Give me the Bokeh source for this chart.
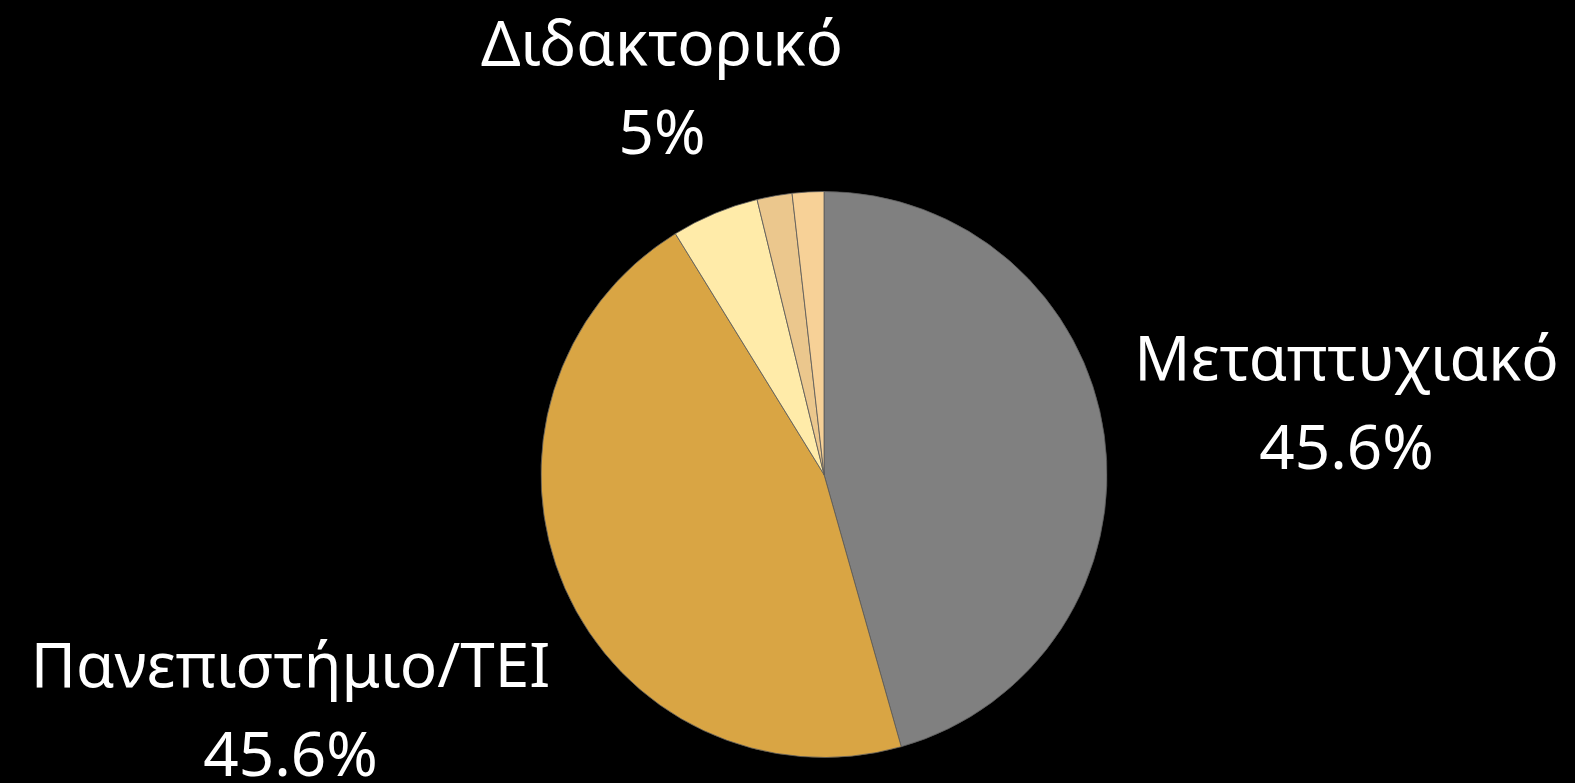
import numpy as np
from bokeh.plotting import figure
from bokeh.models import Range1d
from bokeh.core.properties import value
from bokeh.embed import file_html
from bokeh.resources import INLINE

categories = ["Μεταπτυχιακό", "Πανεπιστήμιο/TEI", "Διδακτορικό", "Άλλο 1", "Άλλο 2"]
shares = [45.6, 45.6, 5.0, 2.0, 1.8]
colors = ["#808080", "#D9A544", "#FFEBA9", "#EBC78D", "#F7D197"]
label_names = ["Μεταπτυχιακό", "Πανεπιστήμιο/TEI", "Διδακτορικό"]
label_values = ["45.6%", "45.6%", "5%"]

W, H = 1575, 783
p = figure(width=W, height=H, output_backend="svg", toolbar_location=None,
           x_range=Range1d(0, W), y_range=Range1d(783 - H, 783),
           min_border=0, background_fill_color="black", border_fill_color="black")
p.axis.visible = False
p.grid.visible = False
p.outline_line_color = None

cx, cy, r = 823.5, 783 - 474, 283
cum = np.concatenate([[0], np.cumsum(shares)]) / sum(shares) * 360.0
start = np.radians(90 - cum[:-1])
end = np.radians(90 - cum[1:])
p.wedge(x=cx, y=cy, radius=r, start_angle=start, end_angle=end, direction="clock",
        fill_color=colors, line_color="#5c5c5c", line_width=0.8)

font = value("Noto Sans")
shift = 28
lx = [1346, 290, 661.5]
ly_name = [783 - (383 - shift), 783 - (690 - shift), 783 - (68 - shift)]
ly_val = [783 - (472 - shift), 783 - (779 - shift), 783 - (157 - shift)]
p.text(x=lx, y=ly_name, text=label_names, text_font=font, text_font_size="62px",
       text_color="white", text_align="center", text_baseline="alphabetic")
p.text(x=lx, y=ly_val, text=label_values, text_font=font, text_font_size="62px",
       text_color="white", text_align="center", text_baseline="alphabetic")

html = file_html(p, INLINE)
html = html.replace("<head>", "<head><style>html,body{background:#000;overflow:hidden;}</style>", 1)
open("out.html", "w").write(html)
